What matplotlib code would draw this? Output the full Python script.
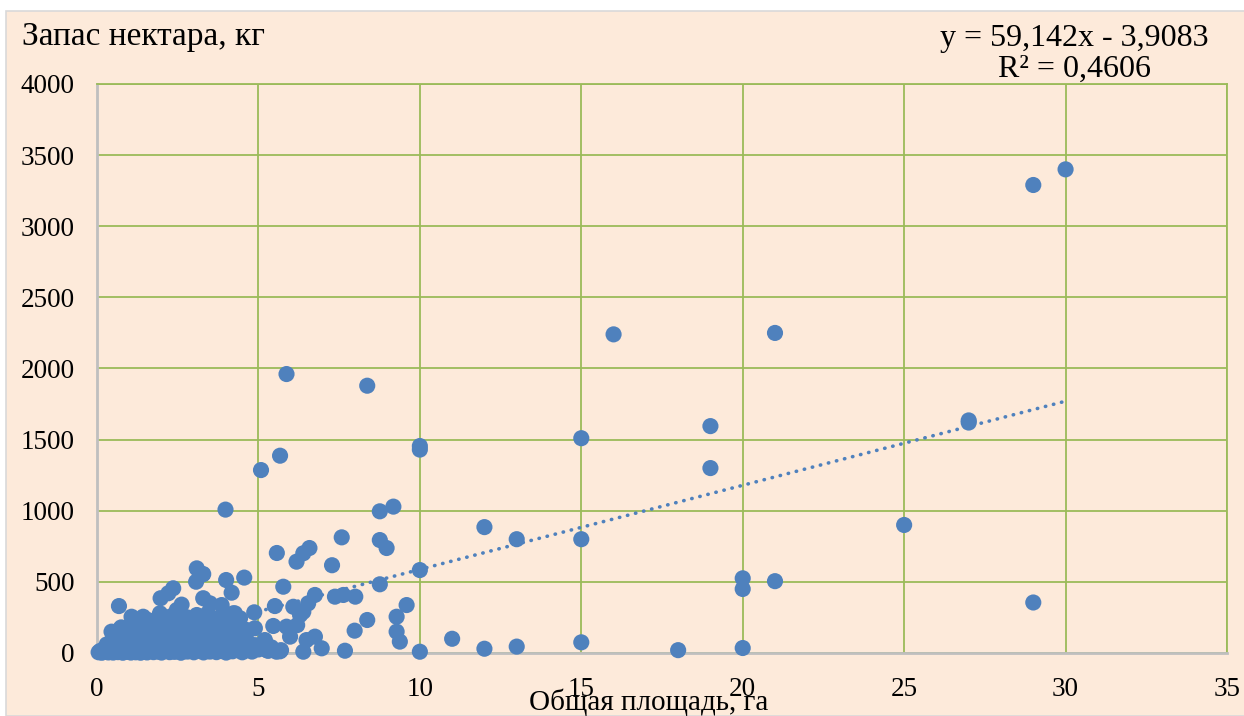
import matplotlib
matplotlib.use('Agg')
import matplotlib.pyplot as plt
from matplotlib.patches import Rectangle

# outliers and mid-range farms (area, ha / nectar, kg)
area_big = [30, 29, 21, 16, 27, 27, 19, 19, 15, 25, 15, 29, 21, 20, 20, 20, 18, 15,
            13, 12, 13, 12, 11, 10, 10, 10, 10]
nectar_big = [3400, 3290, 2250, 2240, 1635, 1620, 1595, 1300, 1510, 900, 800, 355, 505,
              525, 450, 35, 20, 75, 800, 885, 45, 30, 100, 1455, 1430, 583, 9]

area_mid = [5.87, 8.37, 5.67, 5.08, 3.98, 9.18, 8.76, 7.58, 8.76, 8.97, 5.57, 6.58, 6.39,
            6.18, 7.28, 8.76, 5.77, 4.56, 4.0, 4.17, 3.29, 7.37, 7.63, 8.0, 6.75, 6.54,
            6.39, 6.08, 6.29, 5.51, 9.59, 9.28, 8.37, 7.98, 9.28, 9.38, 7.68, 6.96, 6.75,
            6.49, 6.39, 5.98, 5.87, 5.46, 5.56, 5.67, 4.87, 4.89, 5.2, 5.25, 4.22, 4.43,
            4.53, 4.79, 4.63, 4.07, 6.2]
nectar_mid = [1961, 1879, 1387, 1286, 1008, 1029, 996, 813, 794, 738, 703, 738, 701,
              642, 617, 483, 466, 530, 513, 424, 555, 396, 408, 396, 408, 349,
              290, 325, 267, 330, 337, 255, 232, 157, 150, 80, 16, 33, 115,
              91, 9, 115, 185, 190, 9, 12, 286, 174, 91, 21, 279, 244,
              56, 21, 162, 174, 196]

# dense cluster of small farms
area_small = [0.05, 0.1, 0.15, 0.2, 0.25, 0.3, 0.35, 0.4, 0.45, 0.5, 0.55, 0.6, 0.65, 0.7,
              0.75, 0.8, 0.85, 0.9, 0.95, 1.0, 1.05, 1.1, 1.15, 1.2, 1.25, 1.3, 1.35, 1.4,
              1.45, 1.5, 1.55, 1.6, 1.7, 1.75, 1.8, 1.9, 2.0, 2.05, 2.1, 2.2, 2.25, 2.3,
              2.4, 2.5, 2.55, 2.6, 2.7, 2.8, 2.9, 3.0, 3.1, 3.2, 3.3, 3.4, 3.5, 3.6, 3.7,
              3.8, 3.9, 4.0, 4.1, 4.2, 4.4, 4.5, 4.6, 4.8, 5.0, 5.3,
              0.3, 0.5, 0.6, 0.8, 0.9, 1.0, 1.1, 1.2, 1.3, 1.45, 1.5, 1.6, 1.7, 1.8, 1.9,
              2.0, 2.1, 2.2, 2.3, 2.4, 2.5, 2.6, 2.7, 2.8, 2.9, 3.0, 3.1, 3.2, 3.3, 3.4,
              3.5, 3.6, 3.7, 3.8, 3.9, 4.0, 4.1, 4.3, 4.5, 4.7, 4.9,
              0.56, 0.81, 1.23, 1.54, 1.07, 1.43, 1.7, 1.95, 2.16, 2.26, 2.47, 2.62,
              1.85, 2.1, 2.4, 2.7, 2.9, 3.09, 3.45, 3.2, 3.6, 3.44, 3.8, 4.27, 4.0, 2.25,
              2.85, 3.35, 0.95, 1.3, 0.68, 1.97, 2.21, 2.36, 3.09, 3.27, 3.07, 3.29, 3.5,
              3.86, 0.45, 0.7, 1.0,
              0.4, 0.65, 0.85, 1.15, 1.35, 1.65, 1.9, 2.15, 2.35, 2.55, 2.75, 2.95, 3.15,
              3.35, 3.55, 3.75, 3.95, 4.15, 4.35, 4.55, 4.75, 5.1, 5.4, 5.7,
              0.75, 1.05, 1.4, 1.6, 2.0, 2.3, 2.6, 2.8, 3.0, 3.25, 3.55, 3.7, 4.05, 4.4,
              1.2, 1.5, 1.8, 2.05, 2.5, 2.65, 3.0, 3.4, 3.65, 3.95, 4.2, 4.6]
nectar_small = [5, 15, 2, 20, 8, 30, 4, 12, 25, 3, 18, 35, 6, 10,
                28, 2, 15, 40, 8, 20, 3, 30, 12, 5, 38, 18, 2, 25,
                9, 32, 4, 14, 22, 6, 35, 10, 3, 28, 15, 40, 6, 20,
                8, 33, 12, 2, 25, 10, 38, 5, 18, 30, 4, 22, 10, 35, 6,
                15, 28, 3, 40, 12, 20, 5, 30, 10, 25, 15,
                60, 110, 80, 120, 70, 95, 55, 130, 85, 60, 115, 90, 65, 125, 80,
                105, 60, 90, 125, 70, 100, 55, 120, 85, 60, 110, 75, 130, 95, 55,
                115, 80, 60, 100, 70, 125, 85, 60, 95, 70, 55,
                127, 127, 174, 185, 255, 255, 200, 279, 244, 255, 302, 340,
                160, 180, 210, 165, 230, 267, 232, 190, 211, 281, 170, 279, 220, 150,
                145, 160, 150, 210, 330, 385, 420, 455, 595, 553, 501, 385, 349,
                337, 150, 165, 140,
                45, 70, 50, 75, 45, 80, 50, 70, 45, 85, 40, 75, 50,
                80, 45, 70, 50, 75, 40, 65, 45, 50, 40, 20,
                180, 200, 140, 230, 215, 175, 200, 250, 185, 215, 165, 240, 250, 200,
                100, 150, 180, 160, 145, 180, 150, 140, 130, 165, 140, 120]

# linear trend as reported by the fit
slope = 59.142
intercept = -3.9083
trend_x = [0, 30]

peach = '#FDEADA'
blue = '#4F81BD'
green = '#9BBB59'
serif = ['Liberation Serif', 'DejaVu Serif']

fig = plt.figure(figsize=(12.44, 7.16), dpi=100)
fig.patch.set_facecolor('white')
fig.patches.append(Rectangle((6 / 1244, 0), 1, 1 - 11 / 716, transform=fig.transFigure,
                             facecolor=peach, edgecolor='#D9D9D9', linewidth=1.2, zorder=-5))

ax = fig.add_axes([97 / 1244, 1 - 653 / 716, 1130 / 1244, 569 / 716])
ax.set_facecolor(peach)

xs = area_big + area_mid + area_small
ys = nectar_big + nectar_mid + nectar_small
ax.scatter(xs, ys, s=135, color=blue, edgecolors='none', zorder=3, clip_on=False)

trend_y = [slope * x + intercept for x in trend_x]
ax.plot(trend_x, trend_y, color=blue, lw=2.6, linestyle=(0, (0.1, 2.2)),
        dash_capstyle='round', zorder=4)

ax.set_xlim(0, 35)
ax.set_ylim(0, 4000)
ax.set_xticks(range(0, 36, 5))
ax.set_yticks(range(0, 4001, 500))
ax.grid(True, color=green, lw=1.3, zorder=0)
ax.set_axisbelow(True)
ax.tick_params(length=0, labelsize=19.5)
ax.tick_params(axis='y', pad=16)
ax.tick_params(axis='x', pad=17)
for lbl in ax.get_xticklabels() + ax.get_yticklabels():
    lbl.set_family(serif)
for side in ('top', 'right'):
    ax.spines[side].set_color(green)
    ax.spines[side].set_linewidth(1.3)
for side in ('left', 'bottom'):
    ax.spines[side].set_color('#BFBFBF')
    ax.spines[side].set_linewidth(2)

fig.text(22 / 1244, 1 - 37 / 716, 'Запас нектара, кг', family=serif, fontsize=24,
         ha='left', va='center')
fig.text(1074 / 1244, 1 - 54 / 716, 'y = 59,142x - 3,9083\nR² = 0,4606', family=serif,
         fontsize=23, ha='center', va='center', multialignment='center', linespacing=1.1)
fig.text(649 / 1244, 1 - 702 / 716, 'Общая площадь, га', family=serif, fontsize=21,
         ha='center', va='center')

fig.savefig('out.png', dpi=100, facecolor=fig.get_facecolor())
